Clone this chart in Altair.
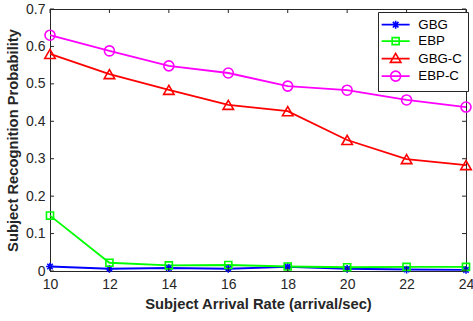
import altair as alt
import pandas as pd

rates = [10, 12, 14, 16, 18, 20, 22, 24]
series_names = ["GBG", "EBP", "GBG-C", "EBP-C"]
gbg = [0.012, 0.006, 0.008, 0.006, 0.011, 0.006, 0.004, 0.003]
ebp = [0.148, 0.022, 0.015, 0.016, 0.012, 0.010, 0.011, 0.011]
gbg_c = [0.580, 0.526, 0.484, 0.444, 0.427, 0.350, 0.299, 0.283]
ebp_c = [0.630, 0.588, 0.548, 0.529, 0.494, 0.483, 0.457, 0.438]
colors = ["#0000ff", "#00ff00", "#ff0000", "#ff00ff"]
x_ticks = [10, 12, 14, 16, 18, 20, 22, 24]
y_ticks = [0, 0.1, 0.2, 0.3, 0.4, 0.5, 0.6, 0.7]

ASTER = "M-1,0L1,0M0,-1L0,1M-0.7,-0.7L0.7,0.7M-0.7,0.7L0.7,-0.7"
marker_shapes = [ASTER, "square", "triangle-up", "circle"]
marker_sizes = [60, 50, 110, 100]

# legend composite symbols (line + marker), units of 5px
LINE = "M-2.8,0L2.8,0"
leg_paths = [
    LINE + "M-0.8,0L0.8,0M0,-0.8L0,0.8M-0.56,-0.56L0.56,0.56M-0.56,0.56L0.56,-0.56",
    LINE + "M-0.7,-0.7L0.7,-0.7L0.7,0.7L-0.7,0.7Z",
    LINE + "M0,-1.05L1.05,0.75L-1.05,0.75Z",
    LINE + "M1,0A1,1,0,1,1,-1,0A1,1,0,1,1,1,0Z",
]

rows = []
for name, vals in zip(series_names, [gbg, ebp, gbg_c, ebp_c]):
    for r, v in zip(rates, vals):
        rows.append({"rate": r, "prob": v, "series": name})
df = pd.DataFrame(rows)

W, H = 416, 262
FONT = "Liberation Sans"
AXC = "#262626"

xs = alt.Scale(domain=[10, 24], nice=False)
ys = alt.Scale(domain=[0, 0.7], nice=False)

x_axis = alt.Axis(
    values=x_ticks, ticks=False, tickSize=0, grid=False, domainColor=AXC,
    labelFlush=False, labelOverlap=False,
    labelFont=FONT, labelFontSize=14, labelColor=AXC, labelPadding=6,
    title="Subject Arrival Rate (arrival/sec)", titleFont=FONT, titleFontSize=14.75,
    titleFontWeight="bold", titleColor=AXC, titlePadding=5)
y_axis = alt.Axis(
    values=y_ticks, format="~g", ticks=False, tickSize=0, grid=False, domainColor=AXC,
    labelFlush=False, labelOverlap=False,
    labelFont=FONT, labelFontSize=14, labelColor=AXC, labelPadding=5,
    title="Subject Recognition Probability", titleFont=FONT, titleFontSize=14.75,
    titleFontWeight="bold", titleColor=AXC, titlePadding=5)
x_enc = alt.X("rate:Q", scale=xs, axis=x_axis)
y_enc = alt.Y("prob:Q", scale=ys, axis=y_axis)

legend = alt.Legend(
    title=None, orient="none", legendX=328, legendY=3,
    padding=6, strokeColor=AXC, fillColor="white",
    labelFont=FONT, labelFontSize=13.3, labelColor="black",
    symbolOffset=5, labelOffset=16, rowPadding=1.5,
    symbolSize=100, symbolStrokeWidth=1.6, symbolFillColor="transparent")
color = alt.Color("series:N", scale=alt.Scale(domain=series_names, range=colors),
                  sort=series_names, legend=legend)

base = alt.Chart(df)
lines = base.mark_line(strokeWidth=1.8).encode(x=x_enc, y=y_enc, color=color)

point_layers = []
for name, shp, sz in zip(series_names, marker_shapes, marker_sizes):
    point_layers.append(
        base.transform_filter(alt.datum.series == name)
        .mark_point(filled=False, strokeWidth=1.6, opacity=1, shape=shp, size=sz)
        .encode(x=x_enc, y=y_enc, color=color)
    )

# legend-only layer (no rows survive the filter), gives composite legend symbols
legend_layer = base.transform_filter("datum.prob < 0").mark_point(
    filled=False, strokeWidth=1.6, size=100).encode(
    x=x_enc, y=y_enc, color=color,
    shape=alt.Shape("series:N", scale=alt.Scale(domain=series_names, range=leg_paths),
                    sort=series_names, legend=legend))

xt = pd.DataFrame({"t": x_ticks})
yt = pd.DataFrame({"t": y_ticks})
TL = 4
tick_style = dict(color=AXC, strokeWidth=1)
xr = alt.X("t:Q", scale=xs, axis=x_axis)
yr_enc = alt.Y("t:Q", scale=ys, axis=y_axis)
xb = alt.Chart(xt).mark_rule(**tick_style).encode(x=xr, y=alt.value(H), y2=alt.value(H - TL))
xtp = alt.Chart(xt).mark_rule(**tick_style).encode(x=xr, y=alt.value(0), y2=alt.value(TL))
yl = alt.Chart(yt).mark_rule(**tick_style).encode(y=yr_enc, x=alt.value(0), x2=alt.value(TL))
yr = alt.Chart(yt).mark_rule(**tick_style).encode(y=yr_enc, x=alt.value(W), x2=alt.value(W - TL))

chart = alt.layer(lines, *point_layers, legend_layer, xb, xtp, yl, yr).properties(
    width=W, height=H,
    autosize=alt.AutoSizeParams(type="none"),
    padding={"left": 50, "top": 9, "right": 7, "bottom": 50},
    background="white",
).configure_view(stroke=AXC, strokeWidth=1)

chart.save("out.html", embed_options={"renderer": "svg", "actions": False})
